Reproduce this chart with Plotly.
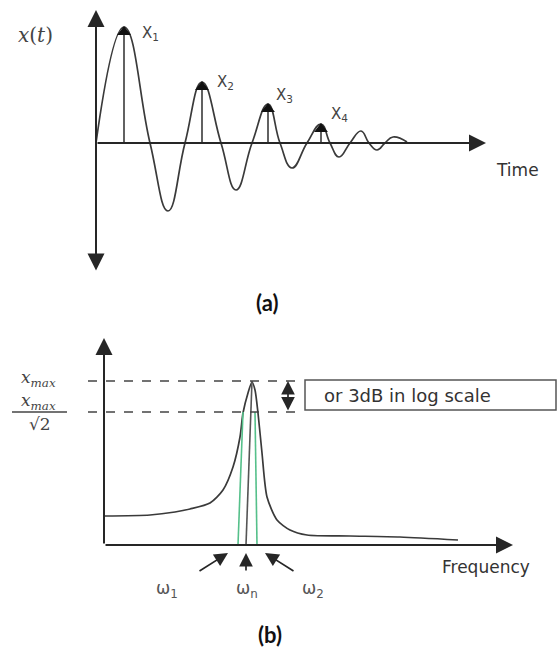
import plotly.graph_objects as go

# ---------------- data: panel (a) damped free vibration ----------------
time_pts = [0.0, 2.8, 5.4, 7.2, 8.9, 10.6, 12.5, 14.0, 15.6, 17.2, 18.4, 19.6,
            21.1, 22.5, 23.4, 24.3, 25.4, 26.5, 27.3, 28.1, 28.9, 29.7, 31.1]
disp_pts = [0.0, 11.6, 0.0, -6.8, 0.0, 6.1, 0.0, -4.7, 0.0, 3.9, 0.0, -2.5,
            0.0, 1.9, 0.0, -1.4, 0.0, 1.2, 0.0, -0.7, 0.0, 0.6, 0.1]
peak_time = [2.8, 10.6, 17.2, 22.5]
peak_disp = [11.6, 6.1, 3.9, 1.9]
peak_labels = ["X<sub>1</sub>", "X<sub>2</sub>", "X<sub>3</sub>", "X<sub>4</sub>"]
time_axis_end = 39.0
disp_axis_min, disp_axis_max = -12.9, 13.3

# ---------------- data: panel (b) frequency response ----------------
freq_pts = [0.0, 4.6, 7.1, 8.6, 10.6, 11.9, 12.9, 13.6, 13.9, 14.4, 14.8,
            15.1, 15.4, 15.8, 16.3, 17.3, 18.6, 20.3, 24.6, 29.6, 35.4]
amp_pts = [2.9, 3.0, 3.3, 3.6, 4.2, 5.5, 7.8, 10.8, 13.2, 15.2, 16.3,
           15.5, 13.2, 9.2, 4.8, 2.5, 1.5, 1.0, 0.9, 0.8, 0.5]
x_max = 16.4
x_half = 13.3
omega_bottom = [13.4, 14.2, 15.3]   # omega1, omega_n, omega2 at the axis
omega_top = [13.9, 14.8, 15.1]      # where the lines meet the curve
omega_labels = ["ω<sub>1</sub>", "ω<sub>n</sub>", "ω<sub>2</sub>"]
freq_axis_end = 40.9
amp_axis_max = 20.7

# ---------------- layout helpers (pixel -> paper) ----------------
W, H = 558, 656
def px(x):
    return x / W
def py(y):
    return 1 - y / H

AX = "#262626"
CURVE = "#3a3a3a"
TXT = "#333333"
GREEN = "#55c08a"

fig = go.Figure()

# panel (a) curve
fig.add_trace(go.Scatter(x=time_pts, y=disp_pts, mode="lines",
                         line=dict(color=CURVE, width=1.7, shape="spline", smoothing=1.3),
                         xaxis="x", yaxis="y", hoverinfo="skip"))
# stems
stem_x, stem_y = [], []
for t, d in zip(peak_time, peak_disp):
    stem_x += [t, t, None]
    stem_y += [0, d, None]
fig.add_trace(go.Scatter(x=stem_x, y=stem_y, mode="lines",
                         line=dict(color=CURVE, width=1.6), xaxis="x", yaxis="y", hoverinfo="skip"))
fig.add_trace(go.Scatter(x=peak_time, y=[d - 0.5 for d in peak_disp], mode="markers",
                         marker=dict(symbol="triangle-up", size=12, color="#111"),
                         xaxis="x", yaxis="y", hoverinfo="skip"))

# panel (b) curve
fig.add_trace(go.Scatter(x=freq_pts, y=amp_pts, mode="lines",
                         line=dict(color=CURVE, width=1.7, shape="spline", smoothing=0.7),
                         xaxis="x2", yaxis="y2", hoverinfo="skip"))
# green bandwidth lines + center line
for i, (fb, ft) in enumerate(zip(omega_bottom, omega_top)):
    top = x_max if i == 1 else x_half
    fig.add_trace(go.Scatter(x=[fb, ft], y=[0, top], mode="lines",
                             line=dict(color="#555" if i == 1 else GREEN, width=1.6),
                             xaxis="x2", yaxis="y2", hoverinfo="skip"))
# dashed reference lines
for lvl in [x_max, x_half]:
    fig.add_trace(go.Scatter(x=[-1.6, 19.1], y=[lvl, lvl], mode="lines",
                             line=dict(color="#444", width=1.4, dash="dash"),
                             xaxis="x2", yaxis="y2", hoverinfo="skip"))

annotations = []

def arrow(x, y, ax, ay, xr, yr, both=False, width=2.0, size=1.7, color=AX):
    d = dict(x=x, y=y, ax=ax, ay=ay, xref=xr, yref=yr, axref=xr, ayref=yr,
             text="", showarrow=True, arrowhead=2, arrowsize=size, arrowwidth=width,
             arrowcolor=color, standoff=0, startstandoff=0)
    if both:
        d.update(arrowside="end+start", startarrowhead=2, startarrowsize=size)
    annotations.append(d)

# axes of (a)
arrow(0, disp_axis_max, 0, disp_axis_min, "x", "y", both=True)
arrow(time_axis_end, 0, 0, 0, "x", "y")
# axes of (b)
arrow(0, amp_axis_max, 0, 0, "x2", "y2")
arrow(freq_axis_end, 0, 0, 0, "x2", "y2")
# double arrow for 3dB
arrow(18.4, x_max, 18.4, x_half, "x2", "y2", both=True, width=1.7, size=1.6)
# omega arrows
arrow(omega_bottom[0] - 1.0, -0.8, omega_bottom[0] - 4.0, -2.7, "x2", "y2", width=1.7, size=1.6)
arrow(omega_bottom[1], -0.8, omega_bottom[1], -2.7, "x2", "y2", width=1.7, size=1.6)
arrow(omega_bottom[2] + 0.8, -0.8, omega_bottom[2] + 3.8, -2.7, "x2", "y2", width=1.7, size=1.6)

SANS = "DejaVu Sans"
SERIF = "DejaVu Serif"

# peak labels (offsets in pixels)
label_dx = [26, 23, 16, 18]
label_dy = [-6, 0, 9, 10]
for t, d, lab, dx, dy in zip(peak_time, peak_disp, peak_labels, label_dx, label_dy):
    annotations.append(dict(x=t, y=d, xref="x", yref="y", text=lab, showarrow=False,
                            xshift=dx, yshift=dy, font=dict(family=SANS, size=15, color="#444")))

def txt(x, y, text, size, family=SANS, color=TXT, xanchor="center", pad=1):
    annotations.append(dict(x=px(x), y=py(y), xref="paper", yref="paper", text=text,
                            showarrow=False, xanchor=xanchor, yanchor="middle", borderpad=pad,
                            font=dict(family=family, size=size, color=color)))

txt(35, 35, "<i>x</i>(<i>t</i>)", 20, family=SERIF, color="#444")
txt(517, 170, "Time", 17)
txt(267, 302, "<b>(a)</b>", 22, family="Lato", color="#111")
txt(270, 634, "<b>(b)</b>", 22, family="Lato", color="#111")
txt(39, 378, "<i>x<sub>max</sub></i>", 17, family=SERIF, color="#444", pad=0)
txt(39, 401, "<i>x<sub>max</sub></i>", 17, family=SERIF, color="#444", pad=0)
txt(40, 424, "√2", 17, family=SERIF, color="#444", pad=0)
txt(322, 395, "or 3dB in log scale", 18, xanchor="left")
txt(486, 567, "Frequency", 17)
for xc, lab in zip([167, 247, 313], omega_labels):
    txt(xc, 589, lab, 17, color="#555")

shapes = [
    dict(type="rect", xref="paper", yref="paper", x0=px(305), x1=px(556), y0=py(380), y1=py(410),
         line=dict(color="#555", width=1.5)),
    dict(type="line", xref="paper", yref="paper", x0=px(12), x1=px(67), y0=py(412), y1=py(412),
         line=dict(color="#444", width=1.5)),
]

hidden = dict(visible=False, showgrid=False, zeroline=False, fixedrange=True)
fig.update_layout(
    width=W, height=H, margin=dict(l=0, r=0, t=0, b=0),
    paper_bgcolor="white", plot_bgcolor="white", showlegend=False,
    xaxis=dict(domain=[0, 1], range=[-9.6, 46.2], **hidden),
    yaxis=dict(domain=[0.5, 1], range=[-18.5, 14.3], **hidden),
    xaxis2=dict(domain=[0, 1], range=[-10.4, 45.4], anchor="y2", **hidden),
    yaxis2=dict(domain=[0, 0.5], range=[-11.1, 21.7], anchor="x2", **hidden),
    annotations=annotations, shapes=shapes,
)
fig.write_html("out.html")
